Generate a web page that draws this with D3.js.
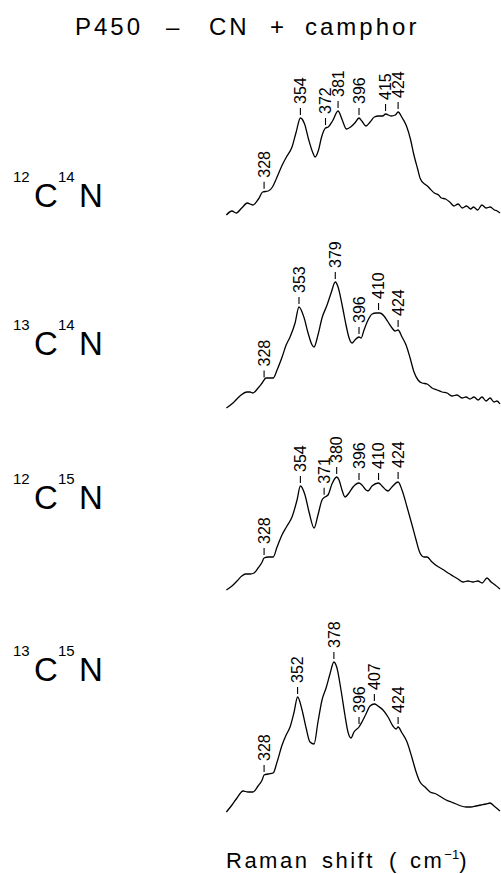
<!DOCTYPE html>
<html>
<head>
<meta charset="utf-8">
<script src="https://cdn.jsdelivr.net/npm/d3@7"></script>
<style>
  body { margin: 0; background: #fff; }
  text { font-family: "Liberation Sans", Arial, sans-serif; fill: #000; }
</style>
</head>
<body>
<svg></svg>
<script>
// page size
var width = 501;
var height = 874;

// spectra: [raman shift (cm-1), intensity (arb.)]
var c12n14 = [[301,2],[305,6],[308,4],[312,9],[316,14],[318,13],[320,12],[324,18],[327,25],[331,26],[334,30],
  [337,39],[341,52],[344,60],[348,70],[351,85],[354,99],[357,93],[360,77],[363,64],[364.5,60],[367,67],[369,79],
  [372,89],[374,90],[377,96],[381,106],[384,97],[387,88],[390,90],[393,94],[396,99],[398,96],[401,91],[404,95],
  [407,100],[410,101],[413,101],[415,103],[419,101],[422,102],[424,105],[427,99],[430,91],[433,77],[435,64],
  [438,48],[440,38],[443,33],[445,31],[447,28],[450,24],[453,22],[455,19],[458,18],[461,15],[464,11],[467,13],
  [470,9],[473,11],[476,8],[478,10],[481,7],[484,12],[487,9],[490,10],[493,7],[495,6],[497,4]];

var c13n14 = [[301,2],[305.7,7],[310.7,14],[315.8,18],[317.9,18],[320,17],[323.7,22],[326.6,27],[329.4,32],
  [332.3,32],[334.5,32],[337.3,40],[340.9,53],[343.8,65],[346.6,73],[350.2,87],[353,103],[356.7,92],[359.5,77],
  [362.4,65],[363.8,63],[366.6,75],[369.5,92],[373.1,105],[376,117],[379,128],[381,123],[383.9,105],[386.7,85],
  [388.9,72],[391,67],[393.1,70],[396,73],[397.5,72],[399.6,80],[402.5,90],[405.4,96],[408.2,97],[411,97],
  [413.9,94],[416.8,88],[419.7,82],[421.8,79],[424,80],[426.8,73],[429.7,65],[432.6,52],[435.4,38],[438.3,30],
  [441.1,27],[444.8,26],[448.3,22],[451.9,20],[455.5,18],[459.1,17],[462.6,14],[466.2,15],[469.8,12],[472.7,13],
  [475.5,11],[478.4,13],[481.3,10],[484.1,13],[487,9],[489.9,12],[492.7,8],[494.8,9],[497,6]];

var c12n15 = [[301,2],[305,6],[308.6,11],[312,16],[314.6,18],[318,18],[320.8,19],[323.7,24],[326.6,30],[328,34],
  [331,35],[334.5,35],[337.3,45],[340.8,57],[344.4,66],[348,75],[351.6,92],[354,106],[357.3,97],[360.2,80],
  [363.8,64],[366.6,77],[369.5,92],[371.6,95],[373.8,97],[376.6,108],[380,115],[381.7,112],[383.8,102],[386,95],
  [388.8,99],[391.7,105],[396,109],[398.1,107],[401,102],[402.4,101],[405.3,106],[410,109],[412.5,106],[415.3,102],
  [416.8,101],[419.6,105],[424,110],[426.8,102],[430.4,85],[434,67],[436.9,52],[439.7,39],[442.6,35],[444.8,35],
  [448.3,30],[451.9,26],[455.5,23],[459.8,19],[463.3,16],[466.9,13],[470.5,10],[474,11],[477.6,10],[481.2,11],
  [484.2,9],[487.7,14],[490.6,10],[493.5,7],[497,3]];

var c13n15 = [[301,2],[305,9],[308.6,16],[312.9,23],[316.5,22],[320,22],[323.7,28],[326.6,34],[328,39],[331,40],
  [334.5,41],[337.3,52],[340.9,69],[343.8,79],[346.6,87],[349.5,102],[352,117],[355.2,104],[358.1,86],[360.9,72],
  [363.8,70],[366.6,92],[369.5,114],[372.4,126],[375.2,140],[378,152],[380.2,146],[383.1,124],[385.9,99],
  [388.1,82],[390.2,76],[392.4,82],[396,87],[398.1,92],[401,100],[403.9,108],[407,110],[409.6,108],[413.2,104],
  [416.8,97],[420.3,88],[422.6,85],[424,87],[426.8,81],[430.4,72],[434,56],[436.9,42],[439.7,32],[443.3,27],
  [446.9,22],[451.2,20],[454.8,17],[458.4,14],[462,12],[465.6,10],[469.1,8],[472.7,7],[476.2,7],[479.8,8],
  [483.4,9],[487,10],[489.9,11],[492.7,8],[497,3]];

// labelled peaks
var peaks1214 = [328, 354, 372, 381, 396, 415, 424];
var peaks1314 = [328, 353, 379, 396, 410, 424];
var peaks1215 = [328, 354, 371, 380, 396, 410, 424];
var peaks1315 = [328, 352, 378, 396, 407, 424];

// isotope labels: [C mass, N mass]
var isotopes = [["12", "14"], ["13", "14"], ["12", "15"], ["13", "15"]];

var titleWords = ["P450", "\u2013", "CN", "+", "camphor"];
var titleX = [75, 166, 209, 270, 305];
var xLabelWords = ["Raman", "shift", "(", "cm"];
var xLabelX = [226, 322, 389, 410];

var spectra = [c12n14, c13n14, c12n15, c13n15];
var peakSets = [peaks1214, peaks1314, peaks1215, peaks1315];
var panelBottoms = [217, 410, 592, 814];
var labelBaselines = [207, 355, 509, 681];

var xScale = d3.scaleLinear()
    .domain([300, 497])
    .range([225, 500]);

var svg = d3.select("svg")
    .attr("width", width)
    .attr("height", height);

// title
svg.append("text")
    .attr("y", 35)
    .style("font-size", "24px")
    .style("letter-spacing", "3px")
    .selectAll("tspan")
    .data(titleWords)
    .enter()
    .append("tspan")
    .attr("x", (d, i) => titleX[i])
    .text(d => d);

// linear interpolation to find where a peak sits on the trace
function intensityAt(data, w) {
  for (var i = 1; i < data.length; i++) {
    if (data[i][0] >= w) {
      var a = data[i - 1], b = data[i];
      var t = (w - a[0]) / (b[0] - a[0]);
      return a[1] + t * (b[1] - a[1]);
    }
  }
  return data[data.length - 1][1];
}

spectra.forEach(function(data, i) {
  var bottom = panelBottoms[i];
  var yScale = d3.scaleLinear()
      .domain([0, 100])
      .range([bottom, bottom - 100]);

  var line = d3.line()
      .x(d => xScale(d[0]))
      .y(d => yScale(d[1]))
      .curve(d3.curveMonotoneX);

  var g = svg.append("g");

  g.append("path")
      .datum(data)
      .attr("fill", "none")
      .attr("stroke", "#000")
      .attr("stroke-width", 1.3)
      .attr("d", line);

  var marks = g.selectAll(".peak")
      .data(peakSets[i])
      .enter()
      .append("g")
      .attr("class", "peak")
      .attr("transform", d => "translate(" + xScale(d) + "," + yScale(intensityAt(data, d)) + ")");

  marks.append("line")
      .attr("x1", 0).attr("x2", 0)
      .attr("y1", -3).attr("y2", -10)
      .attr("stroke", "#000")
      .attr("stroke-width", 1.1);

  marks.append("text")
      .attr("transform", "translate(0,-14) rotate(-90)")
      .attr("dy", "0.36em")
      .style("font-size", "16px")
      .text(d => d);

  // isotope label
  var lab = svg.append("text")
      .attr("y", labelBaselines[i]);
  lab.append("tspan")
      .attr("x", 13)
      .attr("dy", -25)
      .style("font-size", "15px")
      .text(isotopes[i][0]);
  lab.append("tspan")
      .attr("x", 34)
      .attr("dy", 25)
      .style("font-size", "33px")
      .text("C");
  lab.append("tspan")
      .attr("x", 58)
      .attr("dy", -25)
      .style("font-size", "15px")
      .text(isotopes[i][1]);
  lab.append("tspan")
      .attr("x", 79)
      .attr("dy", 25)
      .style("font-size", "33px")
      .text("N");
});

// axis label
var xl = svg.append("text")
    .attr("y", 868)
    .style("font-size", "22px")
    .style("letter-spacing", "2.5px");
xl.selectAll("tspan.w")
    .data(xLabelWords)
    .enter()
    .append("tspan")
    .attr("class", "w")
    .attr("x", (d, i) => xLabelX[i])
    .text(d => d);
xl.append("tspan")
    .attr("dy", -9)
    .style("font-size", "13px")
    .style("letter-spacing", "0px")
    .text("\u22121");
xl.append("tspan")
    .attr("dy", 9)
    .text(")");
</script>
</body>
</html>
